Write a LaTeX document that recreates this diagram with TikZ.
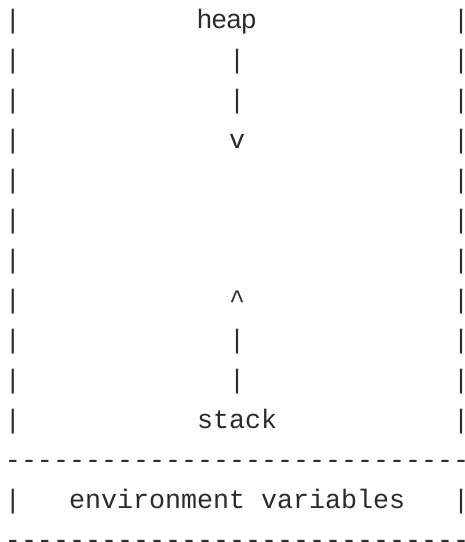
\documentclass[tikz,border=0pt]{standalone}
\usepackage{fontspec}
\setmonofont{Liberation Mono}
\setsansfont{Liberation Sans}
\definecolor{ink}{HTML}{2B2B2B}
% the last column is cut by the frame: keep its box inside the picture
\newcommand{\rimglyph}[1]{\makebox[12pt][l]{#1}}
% the bottom rule sits on a baseline below the frame: lift its box up to the dash
\newcommand{\lowglyph}[1]{\raisebox{-8pt}[0pt][0pt]{#1}}
\begin{document}
% Character grid: one column is 16pt wide, one line is 40pt tall.
% Column c starts at x = 5 + 16c; line r has its baseline at y = 28 + 40(r-1).
\begin{tikzpicture}[x=1pt,y=-1pt,
  glyph/.style={anchor=base west, inner sep=0pt, outer sep=0pt,
    font=\fontsize{26.67pt}{40pt}\selectfont\ttfamily, text=ink},
  sansglyph/.style={glyph, font=\fontsize{26.67pt}{40pt}\selectfont\sffamily}]
  \fill[white] (0,0) rectangle (465,542);
  \useasboundingbox (0,0) rectangle (465,542);

  % side walls of the memory box
  \foreach \r in {1,...,11,13} {
    \node[glyph] (lwall\r) at ({5},{28+40*(\r-1)}) {|};
    \node[glyph] (rwall\r) at ({5+16*28},{28+40*(\r-1)}) {\rimglyph{|}};
  }

  % heap growing down
  \node[sansglyph] (heap) at ({5+16*12},{28}) {heap};
  \foreach \r in {2,3} {
    \node[glyph] (hshaft\r) at ({5+16*14},{28+40*(\r-1)}) {|};
  }
  \node[glyph] (hhead) at ({5+16*14},{28+40*3}) {v};

  % stack growing up
  \node[glyph] (shead) at ({5+16*14},{28+40*7}) {\textasciicircum};
  \foreach \r in {9,10} {
    \node[glyph] (sshaft\r) at ({5+16*14},{28+40*(\r-1)}) {|};
  }
  \node[glyph] (stack) at ({5+16*12},{28+40*10}) {stack};

  % separator line above the environment block
  \foreach \c in {0,...,27} {
    \node[glyph] (sepa\c) at ({5+16*\c},{28+40*11}) {-};
  }
  \node[glyph] (sepa28) at ({5+16*28},{28+40*11}) {\rimglyph{-}};

  % environment block
  \node[glyph] (env) at ({5+16*4},{28+40*12}) {environment variables};

  % closing line at the foot of the frame
  \foreach \c in {0,...,27} {
    \node[glyph, anchor=west] (sepb\c) at ({5+16*\c},{28+40*13-8}) {\lowglyph{-}};
  }
  \node[glyph, anchor=west] (sepb28) at ({5+16*28},{28+40*13-8}) {\rimglyph{\lowglyph{-}}};
\end{tikzpicture}
\end{document}
